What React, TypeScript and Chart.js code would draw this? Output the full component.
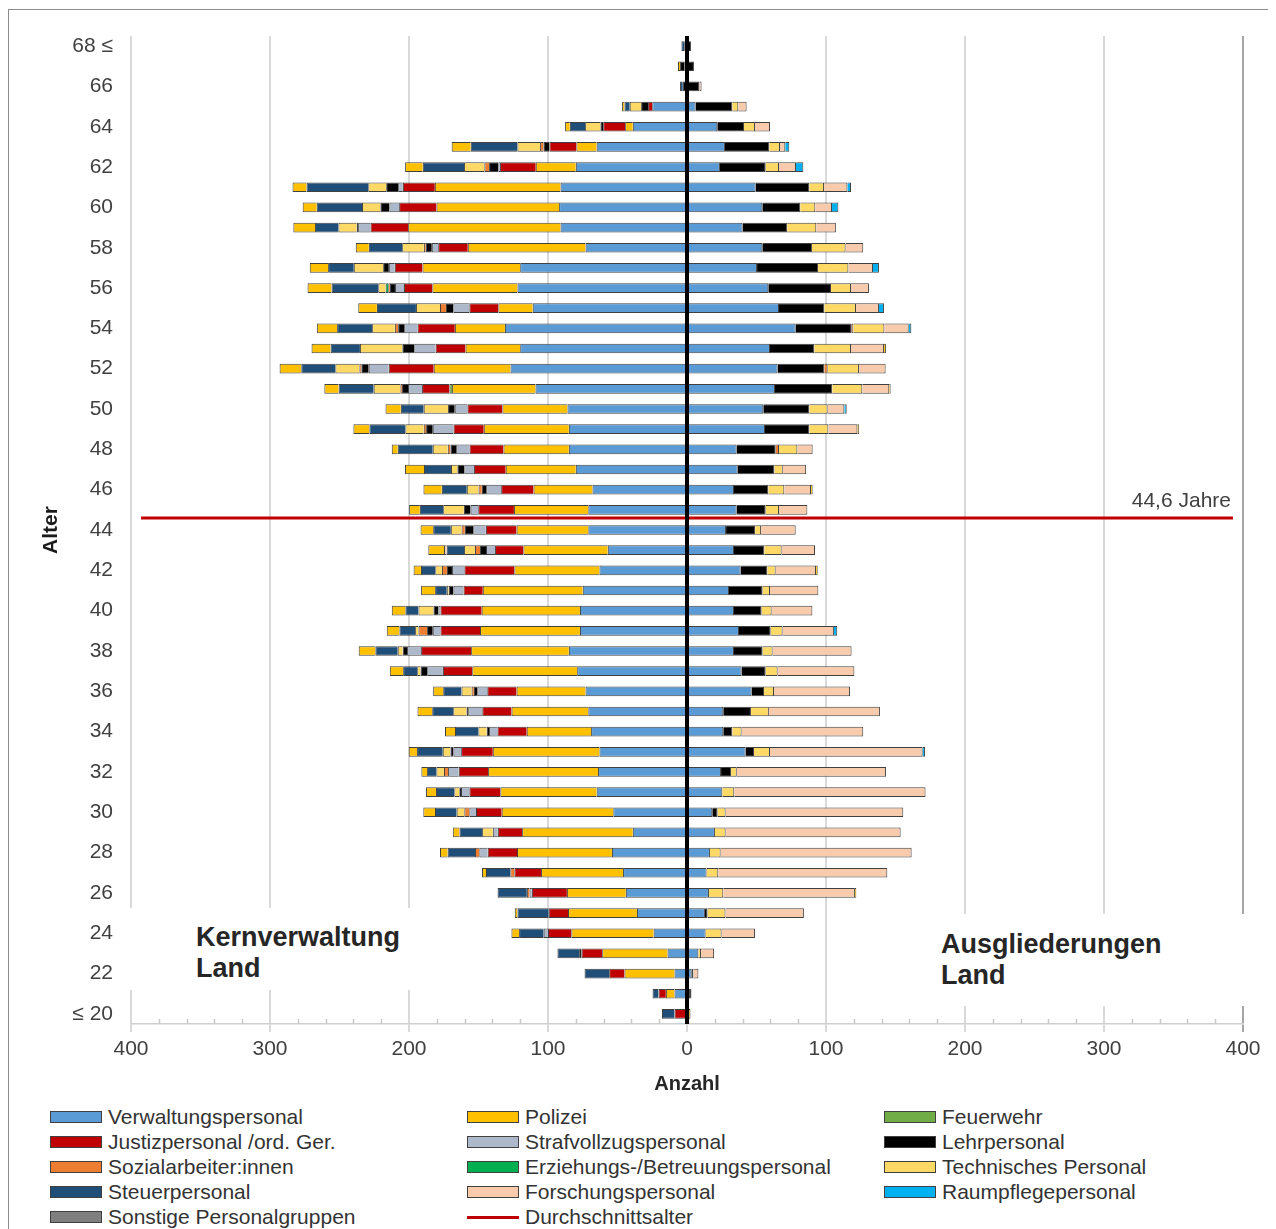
import React, { useEffect, useRef } from 'react';
import { Chart, registerables } from 'chart.js';

Chart.register(...registerables);

// ---------- DATA (rows from age 68+ at the top down to <=20) ----------
const ageLabels = ['68 ≤', '67', '66', '65', '64', '63', '62', '61', '60', '59', '58', '57', '56', '55', '54', '53', '52', '51', '50', '49', '48', '47', '46', '45', '44', '43', '42', '41', '40', '39', '38', '37', '36', '35', '34', '33', '32', '31', '30', '29', '28', '27', '26', '25', '24', '23', '22', '21', '≤ 20'];
const topAge = 68;
const averageAge = 44.6;
const averageLabel = '44,6 Jahre';
const xTickValues = [-400, -300, -200, -100, 0, 100, 200, 300, 400];

// Kernverwaltung Land (left side)
const verwKern = [2, 2, 0, 25, 39, 65, 80, 91, 92, 91, 73, 120, 122, 111, 131, 120, 127, 109, 86, 85, 85, 80, 68, 71, 71, 57, 63, 75, 77, 77, 85, 79, 73, 71, 69, 63, 64, 65, 53, 39, 54, 46, 44, 36, 24, 14, 9, 9, 0];
const polKern = [0, 0, 0, 0, 5.5, 14.6, 28.8, 90.4, 88.2, 109.6, 84.7, 70.3, 61.2, 24.7, 36, 39.3, 55.2, 60, 46.8, 61.2, 47, 50.4, 42.4, 53.5, 51.6, 60.7, 61.2, 71.9, 70.7, 71.9, 70.3, 75.5, 49.6, 55.2, 46.3, 76.7, 79.1, 69.3, 80.3, 79.6, 68.3, 59, 42.4, 49.6, 59.2, 47, 36, 6.2, 0];
const feuKern = [0, 0, 0, 0, 0, 0, 0, 0, 0, 0, 0, 0, 0, 0, 0, 0, 0, 1.9, 0, 0, 0, 0, 0, 0, 0, 0, 0, 0, 0, 0, 0, 0, 0, 0, 0, 0, 0, 0, 0, 0, 0, 0, 0, 0, 0, 0, 0, 0, 0];
const justKern = [0, 0, 0, 3, 15.8, 19.4, 25.7, 23, 26.9, 27.1, 21.3, 19.9, 20.4, 20.9, 26.9, 21.6, 32.4, 19.7, 25.2, 21.8, 24.5, 22.8, 23.3, 25.7, 22.1, 20.4, 36, 13.9, 29.7, 28.5, 36, 21.1, 21.1, 21.1, 21.1, 22.8, 21.1, 22.3, 18.5, 17.5, 21.1, 19.2, 25.2, 13.9, 16.8, 14.9, 11, 5.3, 9];
const strafKern = [0, 0, 0, 0, 0, 0, 1.2, 3.4, 7, 8.9, 4.6, 4.3, 6.5, 11.5, 9.6, 15.3, 14.4, 10.1, 9.1, 14.9, 9.6, 7, 10.8, 5.5, 9.1, 6.5, 8.9, 7.2, 1.4, 5.5, 10.1, 11.3, 7.2, 10.1, 6, 5.5, 7.7, 6, 4.8, 3.6, 6, 0, 1.7, 0, 3.1, 0, 0, 0, 0];
const lehrKern = [0, 3, 3, 5, 2, 4.3, 6.7, 8.6, 6.5, 1, 4.3, 4.1, 3.6, 5.3, 4.3, 8.6, 5.3, 4.3, 4.8, 4.8, 4.1, 5, 3.1, 4.8, 6, 4.3, 3.6, 3.4, 3.6, 4.1, 3.1, 4.8, 2.4, 1.2, 1.7, 2.2, 0, 1.2, 0, 0, 0, 0, 0, 0, 0, 1.7, 0, 0, 0];
const sozKern = [0, 0, 0, 0, 0, 2.4, 3.4, 0, 0, 0, 1.4, 0, 1.2, 4.3, 2.4, 0, 1.4, 1.2, 0, 1.7, 1.9, 0, 2.4, 0, 2.4, 3.6, 3.6, 0, 0, 6.2, 0, 0, 1.7, 0, 0, 0, 2.9, 0, 3.6, 0, 3.1, 2.9, 1.9, 0, 0, 0, 0, 0, 0];
const erzKern = [0, 0, 0, 0, 0, 0, 0, 0, 0, 0, 0, 0, 1.9, 0, 0, 0, 0, 0, 0, 0, 0, 0, 0, 0, 0, 0, 0, 0, 0, 0, 0, 0, 0, 0, 0, 0, 0, 0, 0, 0, 0, 0, 0, 0, 0, 0, 0, 0, 0];
const techKern = [0, 0, 0, 8.2, 11, 16.3, 14.6, 12.9, 13.2, 13.2, 15.6, 21.1, 5.3, 17.3, 16.3, 30.5, 17.3, 19.2, 17.5, 13.2, 10.8, 4.6, 8.4, 14.9, 7.7, 7.9, 4.8, 1.4, 10.8, 2.4, 3.6, 2.4, 7.2, 9.6, 6, 5.5, 5.5, 3.6, 5.5, 7.7, 0, 0, 0, 0, 0, 0, 0, 0, 0];
const steuKern = [2, 0, 2, 3.8, 11, 33.6, 29.7, 44.4, 32.6, 16.8, 24, 18.5, 33.6, 28.1, 25.2, 21.1, 24.5, 25.2, 16.5, 25.9, 25.2, 19.4, 18, 16.8, 12.7, 12.5, 10.3, 8.4, 9.4, 11.3, 16.1, 10.1, 13.2, 15.1, 16.8, 18.5, 6.7, 13.2, 15.6, 16.3, 19.7, 17.5, 21.1, 22.5, 17.7, 15.6, 17.7, 4.3, 9];
const forKern = [0, 0, 0, 0, 0, 0, 0, 0, 0, 0, 0, 0, 0, 0, 0, 0, 0, 0, 0, 0, 0, 0, 0, 0, 0, 1.9, 0, 0, 0, 0, 0, 0, 0, 0, 0, 0, 0, 0, 0, 0, 0, 0, 0, 0, 0, 0, 0, 0, 0];
const raumKern = [0, 0, 0, 0, 0, 0, 0, 0, 0, 0, 0, 0, 0, 0, 0, 0, 0, 0, 0, 0, 0, 0, 0, 0, 0, 0, 0, 0, 0, 0, 0, 0, 0, 0, 0, 0, 0, 0, 0, 0, 0, 0, 0, 0, 0, 0, 0, 0, 0];
const sonstKern = [0, 1.5, 0, 1.7, 3.4, 13.7, 12.7, 10.1, 10.1, 15.6, 9.4, 13.2, 17.3, 13.4, 14.6, 13.7, 15.6, 10.3, 11, 11.5, 4.3, 13.7, 13.2, 7.7, 9.1, 11.3, 5.3, 10.1, 9.8, 9.1, 12, 9.6, 7.2, 10.6, 7.2, 6, 4.1, 7.2, 8.4, 4.8, 5.5, 2.9, 0, 1.9, 5.5, 0, 0, 0, 0];

// Ausgliederungen Land (right side)
const verwAus = [0, 0, 0, 6.2, 21.8, 27.3, 23.7, 49.4, 54.2, 40, 54.2, 50.4, 58.5, 66.2, 78.2, 59.7, 65.2, 63.3, 54.9, 56.1, 35.7, 36.5, 33.8, 35.7, 28.1, 33.8, 38.6, 30.2, 33.8, 37.4, 33.8, 39.3, 46.5, 26.1, 26.1, 42.2, 24.5, 25.4, 18.2, 20.1, 16.5, 14.1, 15.8, 12.9, 13.4, 8.2, 3.4, 2.2, 0];
const polAus = [0, 0, 0, 0, 0, 0, 0, 0, 0, 0, 0, 0, 0, 0, 0, 0, 0, 0, 0, 0, 0, 0, 0, 0, 0, 0, 0, 0, 0, 0, 0, 0, 0, 0, 0, 0, 0, 0, 0, 0, 0, 0, 0, 0, 0, 0, 0, 0, 0];
const feuAus = [0, 0, 0, 0, 0, 0, 0, 0, 0, 0, 0, 0, 0, 0, 0, 0, 0, 0, 0, 0, 0, 0, 0, 0, 0, 0, 0, 0, 0, 0, 0, 0, 0, 0, 0, 0, 0, 0, 0, 0, 0, 0, 0, 0, 0, 0, 0, 0, 0];
const justAus = [0, 0, 0, 0, 0, 0, 0, 0, 0, 0, 0, 0, 0, 0, 0, 0, 0, 0, 0, 0, 0, 0, 0, 0, 0, 0, 0, 0, 0, 0, 0, 0, 0, 0, 0, 0, 0, 0, 0, 0, 0, 0, 0, 0, 0, 0, 0, 0, 0];
const strafAus = [0, 0, 0, 0, 0, 0, 0, 0, 0, 0, 0, 0, 0, 0, 0, 0, 0, 0, 0, 0, 0, 0, 0, 0, 0, 0, 0, 0, 0, 0, 0, 0, 0, 0, 0, 0, 0, 0, 0, 0, 0, 0, 0, 0, 0, 0, 0, 0, 0];
const lehrAus = [3, 5, 9, 26.4, 19.2, 31.9, 32.9, 38.6, 27.3, 32.1, 35.7, 43.9, 45.1, 32.6, 40.3, 31.9, 33.6, 41.2, 33.1, 31.9, 28.1, 26.4, 24.7, 20.9, 20.9, 21.8, 19.2, 24.2, 19.9, 22.8, 20.6, 17.3, 8.9, 19.9, 6.5, 6, 7.2, 0, 3.8, 0, 0, 0, 0, 1.9, 0, 0, 1.2, 1, 0];
const sozAus = [0, 0, 0, 0, 0, 0, 0, 0, 0, 0, 0, 0, 0, 0, 1.2, 0, 2.4, 0, 0, 0, 2.4, 0, 0, 0, 0, 0, 0, 0, 0, 0, 0, 0, 0, 0, 0, 0, 0, 0, 0, 0, 0, 0, 0, 0, 0, 0, 0, 0, 0];
const erzAus = [0, 0, 0, 0, 0, 0, 0, 0, 0, 0, 0, 0, 0, 0, 0, 0, 0, 0, 0, 0, 0, 0, 0, 0, 0, 0, 0, 0, 0, 0, 0, 0, 0, 0, 0, 0, 0, 0, 0, 0, 0, 0, 0, 0, 0, 0, 0, 0, 0];
const techAus = [0, 0, 0, 4.3, 7.9, 7.7, 9.6, 10.6, 10.8, 20.9, 24.2, 21.8, 14.4, 22.8, 22.3, 26.4, 22.5, 21.6, 13.2, 13.7, 13.2, 6, 11.5, 9.6, 4.3, 12.5, 6, 5.3, 7.2, 8.6, 7.2, 8.6, 7.2, 12.9, 6.7, 11.5, 4.1, 8.6, 5.8, 7.7, 7.7, 8.4, 10.3, 12.9, 11.5, 1.9, 0, 0, 0];
const steuAus = [0, 0, 0, 0, 0, 0, 0, 0, 0, 0, 0, 0, 0, 0, 0, 0, 0, 0, 0, 0, 0, 0, 0, 0, 0, 0, 0, 0, 0, 0, 0, 0, 0, 0, 0, 0, 0, 0, 0, 0, 0, 0, 0, 0, 0, 0, 0, 0, 0];
const forAus = [0, 0, 1.5, 6, 10.8, 3.8, 12.2, 16.8, 12, 14.1, 12.7, 17.7, 12.9, 16.5, 17.5, 23.7, 19.2, 19.4, 12, 20.9, 11, 16.8, 19.2, 20.4, 24.9, 24, 29, 34.8, 29.3, 36.9, 56.8, 55.2, 54.7, 79.9, 87.5, 109.8, 107.4, 137.6, 127.8, 125.9, 137.4, 121.6, 94.7, 56.4, 24, 9.4, 3.6, 0, 0];
const raumAus = [0, 0, 0, 0, 0, 2.9, 5.3, 2.6, 4.6, 0, 0, 4.3, 0, 3.6, 1.9, 0, 0, 0, 1.7, 0, 0, 0, 0, 0, 0, 0, 0, 0, 0, 2.4, 0, 0, 0, 0, 0, 1.7, 0, 0, 0, 0, 0, 0, 0, 0, 0, 0, 0, 0, 0];
const sonstAus = [0, 0, 0, 0, 0, 0, 0, 0, 0, 0, 0, 0, 0, 0, 0, 1.4, 0, 1, 0, 1.2, 0, 0, 1.2, 0, 0, 0, 1.2, 0, 0, 0, 0, 0, 0, 0, 0, 0, 0, 0, 0, 0, 0, 0, 1, 0, 0, 0, 0, 0, 2.5];

const seriesNames = ['Verwaltungspersonal', 'Polizei', 'Feuerwehr', 'Justizpersonal /ord. Ger.', 'Strafvollzugspersonal', 'Lehrpersonal', 'Sozialarbeiter:innen', 'Erziehungs-/Betreuungspersonal', 'Technisches Personal', 'Steuerpersonal', 'Forschungspersonal', 'Raumpflegepersonal', 'Sonstige Personalgruppen'];
const seriesColors = ['#5B9BD5', '#FFC000', '#70AD47', '#C00000', '#ADB9CA', '#000000', '#ED7D31', '#00B050', '#FFD966', '#1F4E79', '#F8CBAD', '#00B0F0', '#FFC000'];
const legendColors = ['#5B9BD5', '#FFC000', '#70AD47', '#C00000', '#ADB9CA', '#000000', '#ED7D31', '#00B050', '#FFD966', '#1F4E79', '#F8CBAD', '#00B0F0', '#7F7F7F'];
const kernSeries = [verwKern, polKern, feuKern, justKern, strafKern, lehrKern, sozKern, erzKern, techKern, steuKern, forKern, raumKern, sonstKern];
const ausSeries = [verwAus, polAus, feuAus, justAus, strafAus, lehrAus, sozAus, erzAus, techAus, steuAus, forAus, raumAus, sonstAus];
const averageName = 'Durchschnittsalter';
const averageColor = '#C00000';
const leftTitle = ['Kernverwaltung', 'Land'];
const rightTitle = ['Ausgliederungen', 'Land'];

const FONT = '"Liberation Sans", Arial, sans-serif';

const overlayPlugin = {
  id: 'pyramidOverlay',
  afterDatasetsDraw(chart: any) {
    const { ctx, chartArea, scales } = chart;
    const xs = scales.x;
    const ys = scales.y;
    ctx.save();
    // minor ticks on axis (inside)
    ctx.strokeStyle = '#c8c8c8';
    ctx.lineWidth = 1.5;
    for (let v = -400; v <= 400; v += 20) {
      if (v % 100 === 0) continue;
      const px = Math.round(xs.getPixelForValue(v)) + 0.5;
      ctx.beginPath();
      ctx.moveTo(px, chartArea.bottom - 5);
      ctx.lineTo(px, chartArea.bottom);
      ctx.stroke();
    }
    // average age line
    const p0 = ys.getPixelForValue(0);
    const p1 = ys.getPixelForValue(1);
    const yAvg = p0 + (topAge - averageAge) * (p1 - p0);
    ctx.strokeStyle = averageColor;
    ctx.lineWidth = 3;
    ctx.beginPath();
    ctx.moveTo(chartArea.left + 10, yAvg);
    ctx.lineTo(chartArea.right - 10, yAvg);
    ctx.stroke();
    ctx.fillStyle = '#404040';
    ctx.font = '21px ' + FONT;
    ctx.textAlign = 'right';
    ctx.textBaseline = 'middle';
    ctx.fillText(averageLabel, chartArea.right - 12, yAvg - 17);
    // zero line
    const x0 = xs.getPixelForValue(0);
    ctx.strokeStyle = '#000000';
    ctx.lineWidth = 4;
    ctx.beginPath();
    ctx.moveTo(x0, chartArea.top);
    ctx.lineTo(x0, chartArea.bottom);
    ctx.stroke();
    ctx.restore();
  },
};

function PyramidChart() {
  const ref = useRef<HTMLCanvasElement | null>(null);
  useEffect(() => {
    if (!ref.current) return;
    Chart.defaults.font.family = FONT;
    const datasets: any[] = [];
    seriesNames.forEach((name, i) => {
      datasets.push({
        label: name + ' (Kernverwaltung)',
        data: kernSeries[i].map((v) => (v ? -v : null)),
        backgroundColor: seriesColors[i],
        borderColor: '#404040',
        borderWidth: 1,
        barPercentage: 0.48,
        categoryPercentage: 1,
      });
    });
    seriesNames.forEach((name, i) => {
      datasets.push({
        label: name + ' (Ausgliederungen)',
        data: ausSeries[i].map((v) => (v ? v : null)),
        backgroundColor: seriesColors[i],
        borderColor: '#404040',
        borderWidth: 1,
        barPercentage: 0.48,
        categoryPercentage: 1,
      });
    });
    const gridColor = (c: any) => {
      const v = c.tick ? c.tick.value : null;
      if (v === null || v % 100 !== 0) return 'rgba(0,0,0,0)';
      return v === 400 ? '#a6a6a6' : '#d9d9d9';
    };
    const chart = new Chart(ref.current, {
      type: 'bar',
      data: { labels: ageLabels, datasets },
      plugins: [overlayPlugin],
      options: {
        indexAxis: 'y',
        responsive: false,
        animation: false,
        layout: { padding: { top: 26, right: 20, bottom: 4, left: 0 } },
        plugins: { legend: { display: false }, tooltip: { enabled: false } },
        scales: {
          x: {
            stacked: true,
            min: xTickValues[0],
            max: xTickValues[xTickValues.length - 1],
            afterFit: (s: any) => { s.height = 72; s.paddingLeft = 0; s.paddingRight = 0; },
            ticks: {
              stepSize: 20,
              autoSkip: false,
              maxRotation: 0,
              padding: 5,
              color: '#404040',
              font: { size: 21 },
              callback: (v: any) => (xTickValues.includes(Number(v)) ? String(Math.abs(Number(v))) : ''),
            },
            grid: {
              color: gridColor,
              lineWidth: 2,
              drawTicks: true,
              tickLength: 8,
              tickColor: gridColor,
              tickWidth: 2,
            },
            border: { display: true, color: '#d0d0d0', width: 1.5 },
            title: { display: true, text: 'Anzahl', color: '#262626', font: { size: 20, weight: 'bold' }, padding: 0 },
          },
          y: {
            stacked: true,
            afterFit: (s: any) => { s.width = 122; s.paddingTop = 0; s.paddingBottom = 0; },
            ticks: {
              autoSkip: false,
              padding: 18,
              color: '#404040',
              font: { size: 21 },
              callback: (_v: any, i: number) => (i % 2 === 0 ? ageLabels[i] : ''),
            },
            grid: { display: false, drawTicks: false },
            border: { display: false },
            title: { display: true, text: 'Alter', color: '#1a1a1a', font: { size: 21, weight: 'bold' }, padding: { top: 30, bottom: 0 } },
          },
        },
      } as any,
    });
    return () => chart.destroy();
  }, []);
  return <canvas ref={ref} width={1254} height={1090} style={{ position: 'absolute', left: 0, top: 0, width: 1254, height: 1090 }} />;
}

export default function App() {
  useEffect(() => {
    document.documentElement.style.overflow = 'hidden';
    document.body.style.overflow = 'hidden';
  }, []);
  // container content origin = page (9, 10)
  const OX = 9;
  const OY = 10;
  const colX = [50, 467, 884];
  const rowY = [1117, 1142, 1167, 1192, 1217];
  const legendItems = seriesNames.map((n, i) => ({ name: n, color: legendColors[i], line: false }));
  legendItems.push({ name: averageName, color: averageColor, line: true });
  const titleStyle: React.CSSProperties = { fontFamily: FONT, fontWeight: 'bold', fontSize: 27, lineHeight: '31px', color: '#262626', position: 'absolute', whiteSpace: 'nowrap' };
  return (
    <div style={{ paddingTop: 1 }}>
      <div style={{ position: 'relative', width: 1268, height: 1220, borderTop: '1px solid #8c8c8c', borderLeft: '1px solid #8c8c8c', boxSizing: 'border-box', overflow: 'hidden', background: '#fff' }}>
        <PyramidChart />
        <div style={{ position: 'absolute', left: 125 - OX, top: 908 - OY, width: 287, height: 82, background: '#fff' }}>
          <div style={{ ...titleStyle, left: 196 - 125, top: 937 - 908 - 15.5 }}>
            {leftTitle[0]}<br />{leftTitle[1]}
          </div>
        </div>
        <div style={{ position: 'absolute', left: 930 - OX, top: 914 - OY, width: 322, height: 92, background: '#fff' }}>
          <div style={{ ...titleStyle, left: 941 - 930, top: 944 - 914 - 15.5 }}>
            {rightTitle[0]}<br />{rightTitle[1]}
          </div>
        </div>
        {legendItems.map((it, i) => {
          const cx = colX[i % 3] - OX;
          const cy = rowY[Math.floor(i / 3)] - OY;
          return (
            <div key={it.name} style={{ position: 'absolute', left: cx, top: cy - 13, height: 26, width: 410 }}>
              {it.line ? (
                <div style={{ position: 'absolute', left: 0, top: 11.5, width: 52, height: 3, background: it.color }} />
              ) : (
                <div style={{ position: 'absolute', left: 0, top: 7, width: 52, height: 12, background: it.color, border: '1px solid #404040', boxSizing: 'border-box' }} />
              )}
              <div style={{ position: 'absolute', left: 58, top: 0, fontFamily: FONT, fontSize: 21, lineHeight: '26px', color: '#333', whiteSpace: 'nowrap' }}>{it.name}</div>
            </div>
          );
        })}
      </div>
    </div>
  );
}
